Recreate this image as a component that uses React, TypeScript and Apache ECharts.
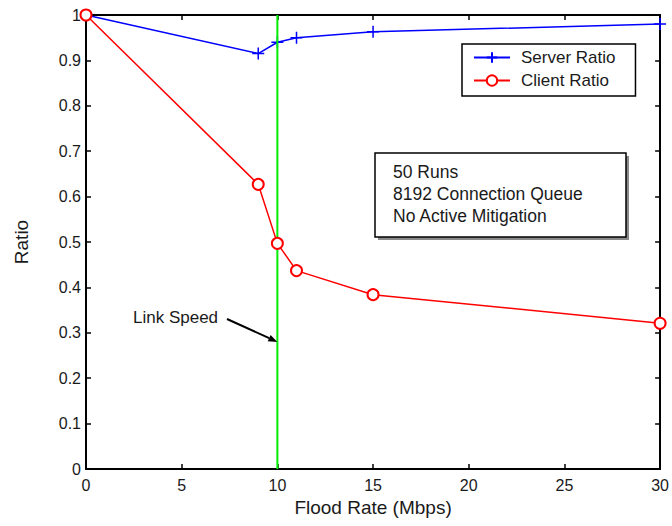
import React, { useEffect, useRef } from "react";
import * as echarts from "echarts";

const floodRates = [0, 9, 10, 11, 15, 30];
const serverRatio = [1.0, 0.915, 0.94, 0.95, 0.963, 0.98];
const clientRatio = [1.0, 0.627, 0.497, 0.437, 0.384, 0.321];
const linkSpeedX = [10, 10];
const linkSpeedY = [0, 1];
const noteLines = ["50 Runs", "8192 Connection Queue", "No Active Mitigation"];

const FONT = "'Liberation Sans', Arial, Helvetica, sans-serif";

export default function App() {
  const ref = useRef<HTMLDivElement>(null);
  useEffect(() => {
    document.body.style.margin = "0";
    const chart = echarts.init(ref.current!, null, { renderer: "svg" });
    const axisLine = { show: true, onZero: false, lineStyle: { color: "#000", width: 2 } };
    const tick = { show: true, inside: true, length: 5, lineStyle: { color: "#000", width: 1.5 } };
    const labelStyle = { fontFamily: FONT, fontSize: 16, color: "#1a1a1a" };
    chart.setOption({
      animation: false,
      backgroundColor: "#fff",
      grid: { left: 86, right: 11, top: 15, bottom: 57, containLabel: false },
      legend: {
        data: ["Server Ratio", "Client Ratio"],
        orient: "vertical",
        left: 462,
        top: 44,
        itemWidth: 36,
        itemHeight: 13,
        itemGap: 6,
        padding: [5, 20, 7, 11],
        borderColor: "#000",
        borderWidth: 1.5,
        backgroundColor: "#fff",
        textStyle: { fontFamily: FONT, fontSize: 17, color: "#1a1a1a", padding: [0, 0, 0, 6] },
      },
      xAxis: [
        {
          type: "value",
          min: 0,
          max: 30,
          interval: 5,
          name: "Flood Rate (Mbps)",
          nameLocation: "middle",
          nameGap: 24,
          nameTextStyle: { fontFamily: FONT, fontSize: 19, color: "#1a1a1a" },
          axisLine,
          axisTick: tick,
          axisLabel: { ...labelStyle, margin: 8 },
          splitLine: { show: false },
        },
        {
          type: "value",
          position: "top",
          min: 0,
          max: 30,
          interval: 5,
          axisLine,
          axisTick: tick,
          axisLabel: { show: false },
          splitLine: { show: false },
        },
      ],
      yAxis: [
        {
          type: "value",
          min: 0,
          max: 1,
          interval: 0.1,
          name: "Ratio",
          nameLocation: "middle",
          nameGap: 55,
          nameTextStyle: { fontFamily: FONT, fontSize: 19, color: "#1a1a1a" },
          axisLine,
          axisTick: tick,
          axisLabel: {
            ...labelStyle,
            margin: 5,
            formatter: (v: number) => (v === 0 || v === 1 ? String(v) : v.toFixed(1)),
          },
          splitLine: { show: false },
        },
        {
          type: "value",
          position: "right",
          min: 0,
          max: 1,
          interval: 0.1,
          axisLine,
          axisTick: tick,
          axisLabel: { show: false },
          splitLine: { show: false },
        },
      ],
      series: [
        {
          name: "Server Ratio",
          type: "line",
          z: 2,
          data: floodRates.map((x, i) => [x, serverRatio[i]]),
          symbol: "path://M0,5L10,5M5,0L5,10",
          symbolSize: 12,
          showAllSymbol: true,
          color: "#0000ff",
          itemStyle: { color: "#0000ff", borderColor: "#0000ff", borderWidth: 1.5 },
          lineStyle: { color: "#0000ff", width: 1.5 },
        },
        {
          name: "Link Speed",
          type: "line",
          z: 3,
          data: linkSpeedX.map((x, i) => [x, linkSpeedY[i]]),
          symbol: "none",
          color: "#00ee00",
          itemStyle: { color: "#00ee00" },
          lineStyle: { color: "#00ee00", width: 2 },
          emphasis: { disabled: true },
          silent: true,
        },
        {
          name: "Client Ratio",
          type: "line",
          z: 4,
          data: floodRates.map((x, i) => [x, clientRatio[i]]),
          symbol: "emptyCircle",
          symbolSize: 11,
          showAllSymbol: true,
          color: "#ff0000",
          itemStyle: { color: "#ff0000", borderColor: "#ff0000", borderWidth: 1.5 },
          lineStyle: { color: "#ff0000", width: 1.5 },
        },
      ],
    });

    const tip = chart.convertToPixel({ xAxisIndex: 0, yAxisIndex: 0 }, [10, 0.28]) as number[];
    const tail = [227, 319];
    const dx = tip[0] - tail[0];
    const dy = tip[1] - tail[1];
    const len = Math.sqrt(dx * dx + dy * dy);
    const ux = dx / len;
    const uy = dy / len;
    const hl = 9;
    const hw = 3.5;
    const bx = tip[0] - ux * hl;
    const by = tip[1] - uy * hl;

    chart.setOption({
      graphic: [
        {
          type: "rect",
          shape: { x: 378, y: 156, width: 251, height: 84 },
          style: { fill: "#8a8a8a" },
          z: 10,
        },
        {
          type: "rect",
          shape: { x: 375, y: 153, width: 251, height: 84 },
          style: { fill: "#fff", stroke: "#000", lineWidth: 1.5 },
          z: 11,
        },
        ...noteLines.map((t, i) => ({
          type: "text",
          x: 393,
          y: 172 + i * 22,
          style: {
            text: t,
            fontFamily: FONT,
            fontSize: 17.5,
            fill: "#1a1a1a",
            verticalAlign: "middle",
          },
          z: 12,
        })),
        {
          type: "text",
          x: 133,
          y: 317,
          style: {
            text: "Link Speed",
            fontFamily: FONT,
            fontSize: 17,
            fill: "#1a1a1a",
            verticalAlign: "middle",
          },
          z: 12,
        },
        {
          type: "line",
          shape: { x1: tail[0], y1: tail[1], x2: bx, y2: by },
          style: { stroke: "#000", lineWidth: 2 },
          z: 12,
        },
        {
          type: "polygon",
          shape: {
            points: [
              [tip[0], tip[1]],
              [bx - uy * hw, by + ux * hw],
              [bx + uy * hw, by - ux * hw],
            ],
          },
          style: { fill: "#000" },
          z: 12,
        },
      ],
    });
    return () => chart.dispose();
  }, []);
  return (
    <div
      ref={ref}
      style={{ position: "fixed", left: 0, top: 0, width: 672, height: 526, background: "#fff" }}
    />
  );
}
